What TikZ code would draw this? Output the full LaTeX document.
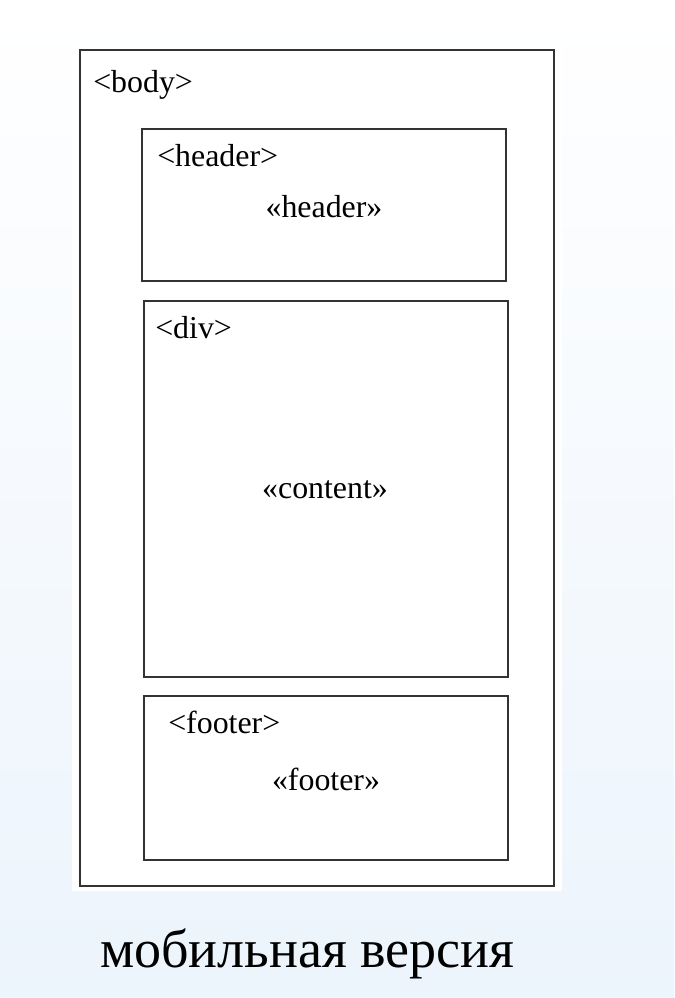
\documentclass[tikz,border=0pt]{standalone}
\usepackage{fontspec}
\setmainfont{Liberation Serif}
\begin{document}
\begin{tikzpicture}[x=0.75pt,y=-0.75pt,
  frame/.style={draw=black!80,line width=1.3pt,fill=white},
  small/.style={inner sep=0pt,font=\fontsize{23.9}{28}\selectfont},
  big/.style={inner sep=0pt,font=\fontsize{40.5}{48}\selectfont}]
\useasboundingbox (0,0) rectangle (674,998);
\shade[top color=white,bottom color={rgb,255:red,236;green,244;blue,252}] (0,0) rectangle (674,998);
\fill[white] (72,43) rectangle (562,891);
\draw[frame] (80,50) rectangle (554,886);
\draw[frame] (142,129) rectangle (506,281);
\draw[frame] (144,301) rectangle (508,677);
\draw[frame] (144,696) rectangle (508,860);
\node[small,anchor=base west] (tbody) at (93,93) {<body>};
\node[small,anchor=base west] (thead) at (157,167) {<header>};
\node[small,anchor=base] (chead) at (324,218) {«header»};
\node[small,anchor=base west] (tdiv) at (155,338) {<div>};
\node[small,anchor=base] (ccont) at (325,498) {«content»};
\node[small,anchor=base west] (tfoot) at (168,733) {<footer>};
\node[small,anchor=base] (cfoot) at (326,790) {«footer»};
\node[big,anchor=base west] (cap) at (100,967) {мобильная версия};
\end{tikzpicture}
\end{document}
